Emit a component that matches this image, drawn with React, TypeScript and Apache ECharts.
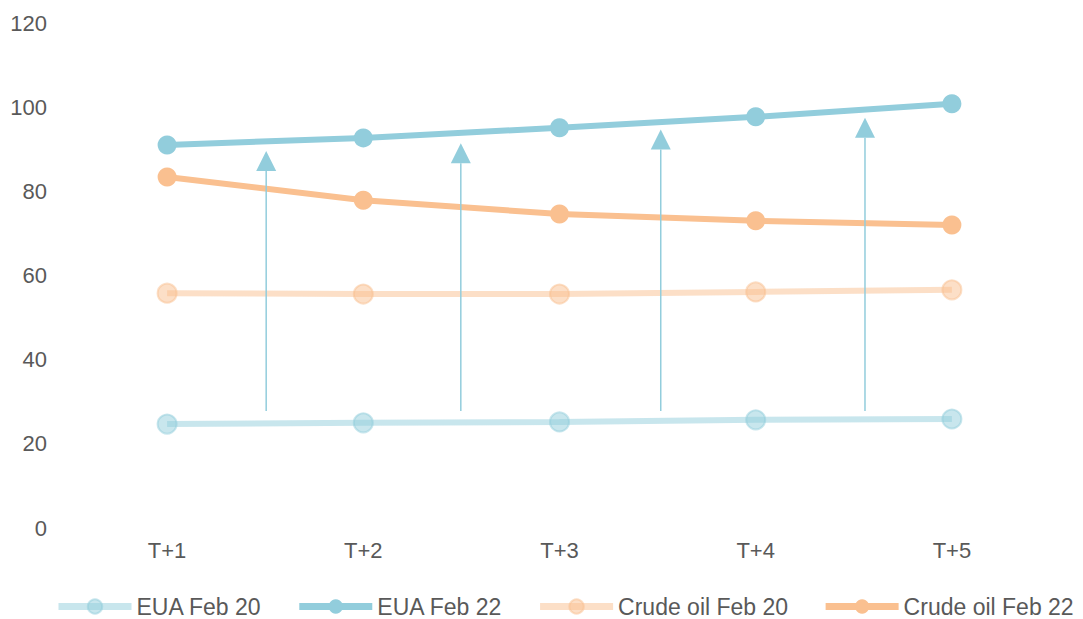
import React, { useEffect, useRef } from "react";
import * as echarts from "echarts";

const categories = ["T+1", "T+2", "T+3", "T+4", "T+5"];
const euaFeb20 = [24.7, 25.0, 25.2, 25.7, 25.9];
const euaFeb22 = [91.0, 92.7, 95.1, 97.7, 100.8];
const crudeFeb20 = [55.8, 55.6, 55.6, 56.1, 56.6];
const crudeFeb22 = [83.4, 77.9, 74.6, 73.0, 72.0];
const yTicks = [0, 20, 40, 60, 80, 100, 120];

// arrows: [category position, bottom value, tip value]
const arrowPos = [0.505, 1.497, 2.516, 3.557];
const arrowBottom = [27.8, 27.8, 27.8, 27.8];
const arrowTip = [89.6, 91.4, 94.7, 97.5];

const BLUE = "#92CDDC";
const ORANGE = "#FAC090";
const BLUE_FADE = "rgba(146,205,220,0.5)";
const ORANGE_FADE = "rgba(250,192,144,0.5)";

export default function App() {
  const ref = useRef<HTMLDivElement>(null);
  useEffect(() => {
    if (!ref.current) return;
    const chart = echarts.init(ref.current, null, { renderer: "svg" });
    const font = "'Liberation Sans', Arial, sans-serif";
    const lineSeries = (name: string, data: number[], color: string, faded: boolean) => ({
      name,
      type: "line",
      data,
      symbol: "circle",
      symbolSize: 19,
      lineStyle: { color, width: 6 },
      itemStyle: faded
        ? { color, borderColor: color, borderWidth: 2 }
        : { color, borderWidth: 0 },
      z: faded ? 2 : 3,
    });
    const arrowData = arrowPos.map((p, i) => [p, arrowBottom[i], arrowTip[i]]);
    chart.setOption({
      animation: false,
      grid: { left: 69, right: 33, top: 23, bottom: 91, containLabel: false },
      legend: {
        left: 50,
        top: 590,
        width: 1060,
        itemWidth: 73,
        itemHeight: 18,
        itemGap: 34,
        lineStyle: { width: 7 },
        textStyle: { color: "#595959", fontSize: 23, fontFamily: font },
        data: ["EUA Feb 20", "EUA Feb 22", "Crude oil Feb 20", "Crude oil Feb 22"],
      },
      xAxis: [
        {
          type: "category",
          data: categories,
          boundaryGap: true,
          axisLine: { show: false },
          axisTick: { show: false },
          splitLine: { show: false },
          axisLabel: { color: "#595959", fontSize: 22, fontFamily: font, margin: 11 },
        },
        { type: "value", min: -0.5, max: 4.5, show: false },
      ],
      yAxis: {
        type: "value",
        min: yTicks[0],
        max: yTicks[yTicks.length - 1],
        interval: 20,
        axisLine: { show: false },
        axisTick: { show: false },
        splitLine: { show: false },
        axisLabel: { color: "#595959", fontSize: 22, fontFamily: font, margin: 22 },
      },
      series: [
        lineSeries("EUA Feb 20", euaFeb20, BLUE_FADE, true),
        lineSeries("EUA Feb 22", euaFeb22, BLUE, false),
        lineSeries("Crude oil Feb 20", crudeFeb20, ORANGE_FADE, true),
        lineSeries("Crude oil Feb 22", crudeFeb22, ORANGE, false),
        {
          type: "custom",
          xAxisIndex: 1,
          silent: true,
          z: 4,
          data: arrowData,
          encode: { x: 0, y: [1, 2] },
          renderItem: (params: any, api: any) => {
            const x = api.value(0);
            const b = api.coord([x, api.value(1)]);
            const t = api.coord([x, api.value(2)]);
            const h = 20;
            const w = 10;
            return {
              type: "group",
              children: [
                {
                  type: "line",
                  shape: { x1: b[0], y1: b[1], x2: t[0], y2: t[1] + h },
                  style: { stroke: BLUE, lineWidth: 1.5 },
                },
                {
                  type: "polygon",
                  shape: {
                    points: [
                      [t[0], t[1]],
                      [t[0] - w, t[1] + h],
                      [t[0] + w, t[1] + h],
                    ],
                  },
                  style: { fill: BLUE },
                },
              ],
            };
          },
        },
      ],
    });
    return () => chart.dispose();
  }, []);
  return <div ref={ref} style={{ width: 1083, height: 619, position: "absolute", left: 0, top: 0 }} />;
}
